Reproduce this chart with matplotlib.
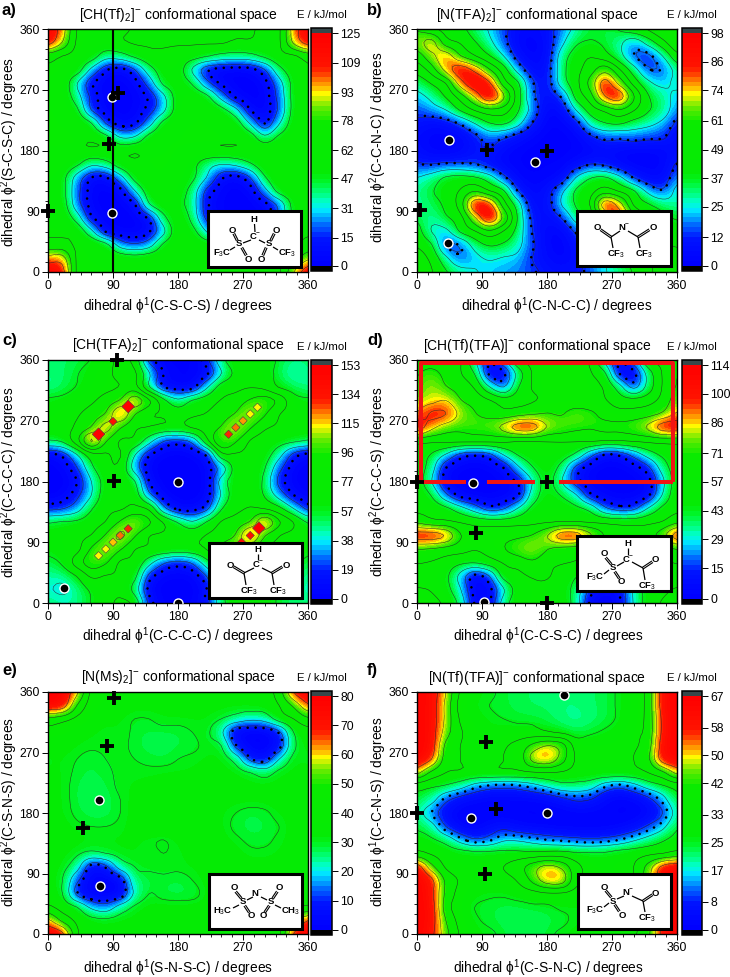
import matplotlib
matplotlib.use('Agg')
import matplotlib.pyplot as plt
import numpy as np
from matplotlib.colors import BoundaryNorm, LinearSegmentedColormap, ListedColormap
from matplotlib.cm import ScalarMappable
from matplotlib.patches import Rectangle
from matplotlib.ticker import MultipleLocator

plt.rcParams['font.family'] = ['Liberation Sans', 'DejaVu Sans']
plt.rcParams['mathtext.fontset'] = 'custom'
plt.rcParams['mathtext.rm'] = 'Liberation Sans'
plt.rcParams['mathtext.it'] = 'Liberation Sans'
plt.rcParams['mathtext.bf'] = 'Liberation Sans:bold'

W, H = 730, 977

# energies, rows from phi2 = 360 down to 0, every 20 degrees
GRID_A = [
    [122,100,62,60,60,60,63,64,64,64,64,64,63,63,63,60,60,100,122],
    [115,92,60,58,58,60,63,63,63,63,63,63,63,60,60,58,60,95,115],
    [70,62,58,55,38,40,50,58,60,58,54,48,42,40,42,50,58,60,70],
    [60,60,55,28,8,3,15,40,55,55,30,8,3,2,3,15,42,55,60],
    [60,58,32,8,2,1,3,22,50,55,45,20,4,1,1,3,25,52,60],
    [60,58,38,12,3,1,2,8,28,55,58,50,25,4,1,2,20,52,60],
    [60,60,50,15,3,1,2,10,28,55,60,60,52,35,6,2,18,52,60],
    [60,60,60,48,15,3,5,25,52,60,60,60,60,55,30,6,30,55,60],
    [60,60,60,60,52,30,32,52,60,60,60,60,60,60,55,35,50,58,60],
    [60,60,60,60,60,58,60,60,60,60,60,60,60,60,60,60,60,60,60],
    [58,58,50,35,40,55,60,60,60,60,52,38,32,35,45,58,60,60,58],
    [55,52,25,6,5,25,52,60,60,58,50,30,8,3,15,45,60,60,55],
    [55,52,20,3,1,3,30,55,58,55,40,12,3,1,2,25,52,58,55],
    [55,55,22,3,1,1,5,45,58,52,38,8,2,1,1,3,20,52,55],
    [58,58,40,8,2,1,1,8,42,58,42,12,3,1,1,3,20,52,58],
    [60,60,58,35,5,1,1,5,28,58,52,30,8,4,4,10,30,55,60],
    [68,68,60,60,52,25,18,25,50,60,58,55,52,50,50,52,58,60,68],
    [100,100,60,60,60,58,55,58,60,60,60,60,60,60,60,60,60,70,90],
    [122,115,60,60,60,60,60,60,60,60,60,60,60,60,60,60,60,92,120],
]
GRID_B = [
    [60,52,45,40,32,24,15,6,5,8,18,28,36,34,38,44,50,58,60],
    [68,78,55,48,38,28,16,4,2,6,22,35,38,35,28,18,30,45,58],
    [55,70,80,62,50,38,25,8,3,6,30,42,48,42,30,14,10,25,45],
    [42,55,78,92,82,62,42,20,6,8,32,45,55,68,50,30,14,14,30],
    [30,38,50,80,95,88,55,38,14,8,30,45,65,90,70,45,28,22,28],
    [22,28,38,55,75,96,75,42,15,8,14,40,56,85,92,62,38,30,22],
    [15,20,25,38,50,58,55,38,20,4,5,25,42,52,60,50,38,32,18],
    [10,6,8,14,25,36,38,28,12,2,2,8,28,36,38,32,28,22,10],
    [6,3,2,4,10,18,14,8,3,1,1,2,10,16,15,17,15,14,6],
    [8,3,2,4,10,12,5,2,1,1,1,2,3,6,5,3,3,4,8],
    [13,12,14,14,13,8,4,2,1,2,2,6,12,10,4,2,3,3,13],
    [25,30,38,40,38,30,15,4,2,3,5,25,36,38,28,12,5,5,20],
    [30,36,42,50,60,50,38,12,4,8,22,38,45,55,48,38,22,14,28],
    [28,32,40,55,94,90,55,30,6,8,25,38,50,92,80,48,38,32,28],
    [35,28,35,45,72,96,70,35,10,6,12,30,40,68,88,65,48,40,36],
    [42,25,22,38,48,58,48,32,12,4,3,14,30,42,55,60,52,46,42],
    [48,38,12,14,30,38,35,28,14,4,2,8,22,32,42,48,50,50,48],
    [54,46,28,15,22,26,24,22,12,6,3,6,18,26,34,42,48,52,54],
    [60,50,38,30,26,22,20,18,14,10,8,10,16,24,30,38,46,55,60],
]
GRID_C = [
    [50,50,52,58,70,80,70,15,2,2,2,15,50,70,75,65,55,48,50],
    [48,50,56,65,72,82,80,40,8,3,3,6,38,62,72,65,52,40,48],
    [45,50,58,66,72,78,84,40,8,3,3,35,65,72,76,72,56,50,45],
    [60,62,68,74,85,98,125,98,62,42,58,68,78,85,98,104,90,64,60],
    [65,70,75,85,98,130,98,80,75,68,74,78,85,98,112,98,78,70,65],
    [68,72,80,98,120,98,80,76,72,70,78,85,98,116,98,80,74,70,68],
    [55,60,88,135,98,76,72,45,20,15,25,70,112,98,76,68,64,60,55],
    [5,12,38,70,75,78,40,10,2,1,2,12,70,75,72,65,45,15,5],
    [1,3,18,52,72,72,30,3,1,1,1,3,28,65,72,58,25,3,1],
    [0,1,8,38,65,72,58,8,1,0,1,2,45,68,72,52,15,2,0],
    [1,3,15,38,68,72,68,25,3,1,1,3,40,68,75,55,30,8,1],
    [15,18,30,55,72,75,82,72,25,5,4,15,55,72,78,76,62,38,15],
    [55,58,60,68,78,98,112,98,75,55,40,58,78,85,98,130,98,76,55],
    [65,68,72,78,98,118,98,78,75,72,70,78,85,98,135,98,78,72,65],
    [62,66,72,98,112,98,78,74,72,68,70,78,98,112,98,78,72,70,62],
    [52,60,85,105,98,75,72,45,22,15,22,50,72,90,80,75,70,62,52],
    [45,45,58,80,76,74,62,15,3,2,3,20,62,72,74,70,62,54,45],
    [40,35,46,60,68,72,50,4,1,1,1,8,55,68,72,65,56,50,40],
    [50,45,46,58,70,80,70,15,2,2,2,15,50,70,75,65,55,48,50],
]
GRID_D = [
    [62,62,60,58,30,8,25,55,60,62,64,60,55,25,6,22,55,60,62],
    [70,76,66,58,42,4,4,35,58,62,66,62,58,45,6,3,35,58,70],
    [72,82,72,65,55,30,15,42,58,60,62,62,60,55,35,12,35,58,72],
    [78,82,86,72,66,58,50,52,56,60,62,60,60,58,50,48,52,62,78],
    [88,102,100,82,72,66,62,66,70,72,70,78,74,66,62,62,66,74,88],
    [108,90,78,74,76,78,90,106,106,85,78,74,72,74,74,78,88,106,108],
    [62,60,60,60,60,60,60,58,58,58,58,58,58,56,56,58,60,62,62],
    [52,42,28,12,8,12,30,44,50,50,50,40,20,6,8,20,35,46,52],
    [50,35,6,2,1,2,6,26,42,50,38,12,3,1,1,3,12,35,50],
    [50,30,3,1,0,1,2,8,30,48,30,10,2,1,1,1,3,26,50],
    [52,42,18,3,1,1,2,5,35,48,42,30,8,2,1,1,4,30,52],
    [54,52,46,34,22,10,14,30,46,50,50,46,38,18,10,12,30,46,54],
    [68,62,60,56,52,50,50,52,54,56,58,58,56,54,52,52,54,58,68],
    [106,106,98,72,64,64,66,68,72,85,106,106,88,70,64,62,64,80,106],
    [72,70,66,62,58,62,70,78,84,72,66,64,60,58,56,58,60,64,72],
    [58,56,52,46,44,50,58,62,68,60,58,56,52,48,46,46,50,54,58],
    [52,50,46,25,3,15,48,54,58,58,52,44,38,32,30,38,46,50,52],
    [58,56,48,30,2,3,28,50,55,54,48,38,12,3,6,32,48,54,58],
    [62,60,54,38,5,5,35,52,56,56,52,36,4,2,6,30,50,58,62],
]
GRID_E = [
    [80,78,62,38,36,34,34,34,34,34,34,34,34,34,34,36,45,70,80],
    [78,76,50,36,34,34,33,33,33,33,33,33,33,33,34,34,40,52,68],
    [48,44,38,34,32,32,30,30,32,32,32,32,30,26,22,24,34,40,48],
    [36,35,33,32,31,32,29,28,28,28,30,31,22,2,1,1,8,30,36],
    [33,33,32,31,31,31,29,27,27,28,29,31,30,8,1,1,4,28,33],
    [31,32,30,28,30,31,30,29,28,30,31,32,33,26,8,4,20,32,31],
    [32,32,29,28,29,31,31,31,32,32,32,33,33,33,30,26,32,33,32],
    [33,32,28,27,28,31,32,33,33,33,33,33,33,33,33,33,33,33,33],
    [33,32,28,26,27,30,33,34,34,34,34,33,33,33,33,33,34,33,33],
    [33,32,29,27,27,30,33,35,35,35,34,34,32,30,28,29,32,33,33],
    [33,33,31,30,30,31,33,35,35,35,34,34,32,29,27,28,30,33,33],
    [34,33,33,32,32,32,32,31,30,32,34,34,33,31,29,29,31,33,34],
    [34,33,31,28,30,32,32,31,30,31,33,34,34,33,31,31,32,33,34],
    [34,32,24,4,8,24,30,31,31,31,32,33,33,33,33,33,33,34,34],
    [34,30,12,2,1,3,26,28,29,28,30,33,33,33,33,33,33,34,34],
    [36,30,8,1,1,1,22,30,28,27,28,32,33,33,33,33,33,35,36],
    [42,36,30,18,14,24,31,33,33,33,33,33,33,33,33,33,34,38,42],
    [62,48,38,33,32,33,33,34,34,34,34,34,34,34,34,34,36,55,70],
    [80,72,42,35,34,34,34,34,34,34,34,34,34,34,34,34,38,70,80],
]
GRID_F = [
    [65,62,50,32,28,26,24,23,22,22,21,21,22,23,26,30,36,62,65],
    [65,62,48,30,26,25,24,23,22,22,21,21,22,23,26,30,36,62,65],
    [65,62,48,32,28,26,25,24,24,23,21,20,21,23,26,30,36,60,65],
    [65,62,46,34,30,27,28,28,28,26,24,22,24,26,28,32,36,60,65],
    [65,62,40,33,31,29,32,36,44,50,46,30,30,30,30,32,38,62,65],
    [65,58,38,33,32,31,33,36,52,56,46,32,30,30,30,33,40,62,65],
    [52,40,33,32,31,31,31,31,32,33,32,30,30,30,30,30,33,40,52],
    [28,26,24,20,14,11,10,11,14,18,22,22,20,13,10,14,20,24,28],
    [24,20,10,5,3,2,2,2,2,3,6,9,8,3,1,2,6,14,24],
    [20,12,4,1,1,1,1,1,1,1,1,2,2,2,1,1,2,8,20],
    [24,20,8,2,1,4,6,3,2,2,1,1,1,1,2,4,9,15,24],
    [28,26,22,14,9,11,16,16,14,12,11,10,9,10,12,16,20,24,28],
    [36,32,29,28,27,27,27,27,27,28,28,26,26,26,28,29,31,33,36],
    [62,45,32,29,30,31,33,38,46,52,48,36,30,30,30,33,45,60,64],
    [65,60,40,32,30,30,30,34,44,54,54,36,30,28,28,32,46,63,65],
    [65,60,40,30,27,26,26,28,30,32,32,30,28,26,26,30,40,62,65],
    [65,62,38,28,25,24,23,23,24,24,26,26,26,26,26,30,38,60,65],
    [65,62,42,30,26,24,23,22,22,23,24,26,26,26,28,30,38,60,65],
    [65,60,45,32,28,26,24,23,23,24,26,28,28,28,30,32,40,60,65],
]

TICKS_A = [0, 15, 31, 47, 62, 78, 93, 109, 125]
TICKS_B = [0, 12, 25, 37, 49, 61, 74, 86, 98]
TICKS_C = [0, 19, 38, 57, 77, 96, 115, 134, 153]
TICKS_D = [0, 15, 29, 43, 57, 71, 86, 100, 114]
TICKS_E = [0, 10, 20, 30, 40, 50, 60, 70, 80]
TICKS_F = [0, 8, 17, 25, 33, 42, 50, 58, 67]

MINIMA_A = [(88, 88), (88, 259)]
MINIMA_B = [(44, 195), (164, 163), (43.5, 43)]
MINIMA_C = [(180, 180), (180, 0), (22, 22)]
MINIMA_D = [(78, 178), (93, 2)]
MINIMA_E = [(70, 199.5), (72, 71)]
MINIMA_F = [(203, 355), (75, 173), (180, 180)]

SADDLES_A = [(0, 90), (85, 189), (97, 265)]
SADDLES_B = [(4, 92), (97, 181), (180, 180)]
SADDLES_C = [(95, 360), (92, 181)]
SADDLES_D = [(0, 179), (180, 180), (81, 103), (180, 0)]
SADDLES_E = [(91, 351), (82, 279), (48, 158)]
SADDLES_F = [(96, 285), (109, 186), (94, 89), (0, 180)]

# small square spots sitting on the ridges of panel c: phi1, phi2, energy
SPOTS_C_X = [70, 80, 90, 100, 111, 250, 260, 270, 280, 290, 70, 90, 111, 268, 280, 292]
SPOTS_C_Y = [70, 80, 90, 100, 110, 250, 260, 270, 280, 290, 250, 269, 291, 90, 100, 111]
SPOTS_C_E = [112, 114, 117, 122, 128, 128, 124, 118, 114, 112, 150, 136, 150, 140, 136, 150]

TITLES = ['[CH(Tf)$_2$]$^{-}$', '[N(TFA)$_2$]$^{-}$', '[CH(TFA)$_2$]$^{-}$',
          '[CH(Tf)(TFA)]$^{-}$', '[N(Ms)$_2$]$^{-}$', '[N(Tf)(TFA)]$^{-}$']
XLABELS = ['\u03d5$^{1}$(C-S-C-S)', '\u03d5$^{1}$(C-N-C-C)', '\u03d5$^{1}$(C-C-C-C)',
           '\u03d5$^{1}$(C-C-S-C)', '\u03d5$^{1}$(S-N-S-C)', '\u03d5$^{1}$(C-S-N-C)']
YLABELS = ['\u03d5$^{2}$(S-C-S-C)', '\u03d5$^{2}$(C-C-N-C)', '\u03d5$^{2}$(C-C-C-C)',
           '\u03d5$^{2}$(C-C-C-S)', '\u03d5$^{2}$(C-S-N-S)', '\u03d5$^{1}$(C-C-N-S)']

phi = np.arange(0, 361, 20)


def make_cmap(n):
    stops = [(0, (0, 0, 255)), (.11, (0, 20, 255)), (.16, (0, 90, 255)), (.2, (0, 165, 255)),
             (.235, (0, 235, 255)), (.27, (0, 255, 200)), (.31, (0, 255, 120)), (.36, (0, 245, 40)),
             (.4, (5, 235, 5)), (.62, (10, 235, 0)), (.68, (90, 235, 0)), (.72, (190, 240, 0)),
             (.745, (255, 250, 0)), (.78, (255, 170, 0)), (.82, (255, 85, 0)), (.86, (255, 20, 0)),
             (1, (255, 0, 0))]
    smooth = LinearSegmentedColormap.from_list('energy', [(t, tuple(v / 255 for v in c)) for t, c in stops])
    return smooth(np.linspace(0, 1, n))


def smooth_axis(z, k):
    # Catmull-Rom along the first axis, same kernel family as the bicubic image
    n = z.shape[0]
    t = np.linspace(0, n - 1, (n - 1) * k + 1)
    i = np.minimum(t.astype(int), n - 2)
    u = (t - i)[:, None]
    p0, p1, p2, p3 = z[np.maximum(i - 1, 0)], z[i], z[i + 1], z[np.minimum(i + 2, n - 1)]
    return 0.5 * (2 * p1 + (p2 - p0) * u + (2 * p0 - 5 * p1 + 4 * p2 - p3) * u ** 2
                  + (3 * p1 - p0 - 3 * p2 + p3) * u ** 3)


def px_axes(fig, x0, y0, x1, y1):
    return fig.add_axes([x0 / W, 1 - y1 / H, (x1 - x0) / W, (y1 - y0) / H])


def energy_map(fig, box, cbox, grid, ticks, minima, saddles, dot_level):
    ax = px_axes(fig, *box)
    cax = px_axes(fig, *cbox)
    z = np.array(grid, dtype=float)[::-1]
    levels = np.linspace(0, ticks[-1], 49)
    colors = make_cmap(48)
    img_cmap = ListedColormap(colors)
    img_cmap.set_under(colors[0])
    img_cmap.set_over(colors[-1])
    norm = BoundaryNorm(levels, 48)
    ax.imshow(z, origin='lower', extent=(-10, 370, -10, 370), aspect='auto', cmap=img_cmap, norm=norm,
              interpolation='bicubic', interpolation_stage='data')
    fine = smooth_axis(smooth_axis(z, 5).T, 5).T
    fine_phi = np.linspace(0, 360, fine.shape[0])
    ax.contour(fine_phi, fine_phi, fine, levels=ticks[1:-1], colors='#2a2a2a', linewidths=0.35, linestyles='-')
    dots = ax.contour(fine_phi, fine_phi, fine, levels=[dot_level], colors='k', linewidths=1.9,
                      linestyles=[(0, (0.01, 3.0))])
    dots.set_capstyle('round')
    for x, y in saddles:
        ax.plot(x, y, '+', color='k', ms=10, mew=2.8, clip_on=False, zorder=6)
    for x, y in minima:
        ax.plot(x, y, 'o', color='k', mec='w', ms=6.5, mew=1, zorder=5)
    ax.set_xlim(0, 360)
    ax.set_ylim(0, 360)
    ax.set_xticks(range(0, 361, 90))
    ax.set_yticks(range(0, 361, 90))
    ax.xaxis.set_minor_locator(MultipleLocator(15))
    ax.yaxis.set_minor_locator(MultipleLocator(15))
    ax.tick_params(which='major', length=4, width=0.7, labelsize=8.8, pad=2)
    ax.tick_params(which='minor', length=2, width=0.6)
    for s in ax.spines.values():
        s.set_linewidth(1.0)

    bar_cmap = ListedColormap(colors)
    bar_cmap.set_under('k')
    bar_cmap.set_over('#37474a')
    cb = fig.colorbar(ScalarMappable(norm=norm, cmap=bar_cmap), cax=cax, extend='both',
                      extendrect=True, extendfrac=0.022, ticks=ticks, spacing='proportional')
    cb.ax.minorticks_off()
    cb.ax.tick_params(length=4, width=0.7, labelsize=8.8, pad=2)
    cb.outline.set_linewidth(1.1)
    return ax, img_cmap, norm


def draw_mol(ov, box, labels, single, double):
    x0, y0, x1, y1 = box
    ov.add_patch(Rectangle((x0, y0), x1 - x0, y1 - y0, fc='w', ec='k', lw=2.2))
    for a, b, c, d in single:
        ov.plot([a, c], [b, d], color='k', lw=0.9, solid_capstyle='butt')
    for a, b, c, d in double:
        nx, ny = -(d - b), c - a
        n = (nx ** 2 + ny ** 2) ** 0.5
        nx, ny = nx / n * 0.9, ny / n * 0.9
        ov.plot([a + nx, c + nx], [b + ny, d + ny], color='k', lw=0.8)
        ov.plot([a - nx, c - nx], [b - ny, d - ny], color='k', lw=0.8)
    for x, y, s in labels:
        ov.text(x, y, s, ha='center', va='center', fontsize=6.8, fontweight='bold')


def main():
    fig = plt.figure(figsize=(W / 100, H / 100), dpi=100)
    boxes = [(48, 29, 308, 272), (417, 29, 677, 272), (48, 360, 308, 603),
             (417, 360, 677, 603), (48, 692, 308, 934), (417, 692, 677, 934)]
    cboxes = [(311, 28, 332, 271), (682, 28, 702, 271), (311, 360, 332, 604),
              (682, 360, 702, 604), (311, 691, 332, 935), (682, 691, 702, 935)]
    grids = [GRID_A, GRID_B, GRID_C, GRID_D, GRID_E, GRID_F]
    ticks = [TICKS_A, TICKS_B, TICKS_C, TICKS_D, TICKS_E, TICKS_F]
    minima = [MINIMA_A, MINIMA_B, MINIMA_C, MINIMA_D, MINIMA_E, MINIMA_F]
    saddles = [SADDLES_A, SADDLES_B, SADDLES_C, SADDLES_D, SADDLES_E, SADDLES_F]
    dot_levels = [6, 13, 8, 6, 7, 12]

    axes = []
    for i in range(6):
        axes.append(energy_map(fig, boxes[i], cboxes[i], grids[i], ticks[i], minima[i], saddles[i], dot_levels[i]))

    axes[0][0].plot([90, 90], [0, 360], color='k', lw=1.5, zorder=4)

    ax_c, cmap_c, norm_c = axes[2]
    spot_e = np.array(SPOTS_C_E)
    ax_c.scatter(SPOTS_C_X, SPOTS_C_Y, c=spot_e, cmap=cmap_c, norm=norm_c, marker='D',
                 s=np.where(spot_e >= 145, 42, 18), edgecolors='#444444', linewidths=0.4, zorder=3)

    # red frame in panel d
    red = dict(color='#f01414', lw=2.9, solid_capstyle='butt', zorder=4)
    axes[3][0].plot([5, 5, 355, 355], [180, 355, 355, 180], **red)
    axes[3][0].plot([5, 68], [180, 180], **red)
    axes[3][0].plot([97, 164], [180, 180], **red)
    axes[3][0].plot([197, 355], [180, 180], **red)

    # overlay in image pixels for the texts and the formula boxes
    ov = fig.add_axes([0, 0, 1, 1], zorder=10)
    ov.set_xlim(0, W)
    ov.set_ylim(H, 0)
    ov.axis('off')

    title_pos = [(178, 15), (537, 15), (178, 345), (537, 346), (178, 677), (537, 678)]
    e_pos = [(322, 15), (692, 15), (322, 347), (692, 347), (322, 678), (692, 678)]
    letter_pos = [(2, 10), (367, 10), (2, 340), (367, 340), (2, 670), (367, 670)]
    xl_pos = [(178, 306), (557, 306), (178, 636), (548, 636), (178, 968), (548, 968)]
    yl_pos = [(9, 152), (378, 147), (9, 482), (378, 482), (9, 812), (378, 812)]
    for i in range(6):
        ov.text(*title_pos[i], TITLES[i] + ' conformational space', ha='center', va='center', fontsize=10)
        ov.text(*e_pos[i], 'E / kJ/mol', ha='center', va='center', fontsize=8.2)
        ov.text(*letter_pos[i], 'abcdef'[i] + ')', ha='left', va='center', fontsize=12, fontweight='bold')
        ov.text(*xl_pos[i], 'dihedral ' + XLABELS[i] + ' / degrees', ha='center', va='center', fontsize=9.9)
        ov.text(*yl_pos[i], 'dihedral ' + YLABELS[i] + ' / degrees', ha='center', va='center', fontsize=9.9,
                rotation=90)

    draw_mol(ov, (207.5, 211, 301, 266.5),
             [(254, 220, 'H'), (255, 237, 'C$^{-}$'), (239, 244, 'S'), (269, 244, 'S'), (232, 230.5, 'O'),
              (248, 259, 'O'), (276, 230.5, 'O'), (261, 259, 'O'), (222, 253, 'F$_3$C'), (287, 253, 'CF$_3$')],
             [(254.5, 224, 255, 232), (251, 240, 243, 243), (259, 240, 265, 243), (235, 247, 230, 250),
              (273, 247, 278, 250)],
             [(237, 240, 234, 234), (242, 248, 246, 255), (271, 240, 274, 234), (266, 248, 263, 255)])
    draw_mol(ov, (577, 211, 671, 266),
             [(624, 228, 'N$^{-}$'), (597, 228, 'O'), (653, 228, 'O'), (616, 254, 'CF$_3$'), (644, 254, 'CF$_3$')],
             [(611, 237, 620, 231), (628, 231, 638, 237), (611, 237, 613, 248), (638, 237, 640, 248)],
             [(601, 230, 611, 237), (638, 237, 649, 230)])
    draw_mol(ov, (209, 543, 302, 598),
             [(258, 550, 'H'), (258, 565, 'C$^{-}$'), (230, 565, 'O'), (286, 565, 'O'), (249, 591, 'CF$_3$'),
              (278, 591, 'CF$_3$')],
             [(258, 554, 258, 560), (244, 573, 254, 568), (262, 568, 272, 573), (244, 573, 246, 585),
              (272, 573, 274, 585)],
             [(234, 567, 244, 573), (272, 573, 282, 567)])
    draw_mol(ov, (577, 536, 671, 591),
             [(628, 544, 'H'), (628, 560, 'C$^{-}$'), (613, 568, 'S'), (604, 554, 'O'), (621, 582, 'O'),
              (595, 577, 'F$_3$C'), (655, 560, 'O'), (647, 586, 'CF$_3$')],
             [(628, 548, 628, 555), (624, 562, 617, 566), (632, 562, 643, 568), (609, 570, 604, 574),
              (643, 568, 645, 580)],
             [(611, 564, 606, 558), (615, 572, 619, 578), (643, 568, 652, 562)])
    draw_mol(ov, (209, 874, 302, 929),
             [(257, 894, 'N$^{-}$'), (243, 902, 'S'), (271, 902, 'S'), (234, 888, 'O'), (251, 916, 'O'),
              (279, 888, 'O'), (263, 916, 'O'), (223, 911, 'H$_3$C'), (291, 911, 'CH$_3$')],
             [(253, 897, 247, 900), (261, 897, 267, 900), (239, 905, 233, 908), (275, 905, 281, 908)],
             [(241, 898, 236, 892), (245, 906, 249, 912), (273, 898, 277, 892), (269, 906, 265, 912)])
    draw_mol(ov, (578, 874, 671, 929),
             [(628, 893, 'N$^{-}$'), (613, 901, 'S'), (604, 887, 'O'), (622, 915, 'O'), (595, 910, 'F$_3$C'),
              (655, 893, 'O'), (647, 918, 'CF$_3$')],
             [(624, 896, 617, 899), (632, 896, 643, 901), (609, 903, 604, 907), (643, 901, 645, 912)],
             [(611, 897, 606, 891), (615, 905, 619, 911), (643, 901, 652, 895)])

    fig.savefig('out.png', dpi=100)


if __name__ == '__main__':
    main()
